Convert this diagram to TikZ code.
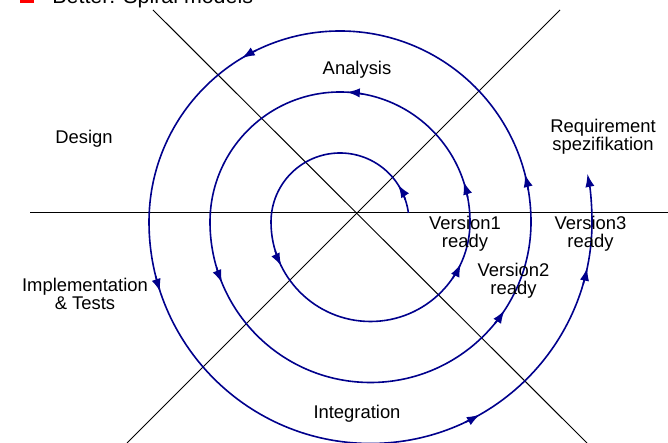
\documentclass[tikz,border=0pt]{standalone}
\usepackage{fontspec}
\setmainfont{Liberation Sans}
\usetikzlibrary{arrows.meta,calc}
\definecolor{spiralblue}{RGB}{0,0,140}
\tikzset{
  axis/.style={line width=0.5pt},
  spiral/.style={draw=spiralblue,line width=0.8pt},
  tip/.style={-{Latex[length=6.5pt,width=4.6pt]}},
  lbl/.style={align=center,inner sep=0pt,font=\fontsize{9.2}{9}\selectfont},
}
\begin{document}
\begin{tikzpicture}[x=0.5pt,y=0.5pt]
  \useasboundingbox(0,0)rectangle(668,443);
  %标题
  \fill[red](20,439.5)rectangle(34,453.5);
  \node[anchor=base west,inner sep=0pt,font=\fontsize{10.7}{12}\selectfont](title)at(52,439){Better: Spiral models};
  %坐标轴
  \coordinate(O)at(357,230);
  \draw[axis](30,230)--(668,230);
  \draw[axis](153,433)--(587,0);
  \draw[axis](560,433)--(127,0);
  %螺旋
  \coordinate(A)at(340,221);
  \coordinate(B)at(370.5,221);
  \draw[spiral,tip](A)++(7.5:69)arc(7.5:180:69)arc(180:360:99.5)arc(0:180:130)arc(180:360:160.5)
    arc(0:180:191)arc(180:360:221.5)arc(0:11:252);
  %箭头
  \foreach \ctr/\ang/\rad in {A/27.6/69,B/202.8/99.5,B/331.6/99.5,A/15.4/130,A/84.3/130,B/200.1/160.5,
    B/324.4/160.5,A/12.7/191,A/119.1/191,B/196.8/221.5,B/298/221.5,B/346.5/221.5}
    \draw[spiral,tip](\ctr)++(\ang-600/\rad:\rad)arc(\ang-600/\rad:\ang+350/\rad:\rad);
  %文字
  \node[lbl](analysis)at(357,373){Analysis};
  \node[lbl](design)at(84,304){Design};
  \node[lbl](req)at(603,306){Requirement\\spezifikation};
  \node[lbl](v1)at(465,209){Version1\\ready};
  \node[lbl](v2)at(513.5,162){Version2\\ready};
  \node[lbl](v3)at(590.5,209){Version3\\ready};
  \node[lbl](impl)at(85,149){Implementation\\\& Tests};
  \node[lbl](integ)at(357,29){Integration};
\end{tikzpicture}
\end{document}
